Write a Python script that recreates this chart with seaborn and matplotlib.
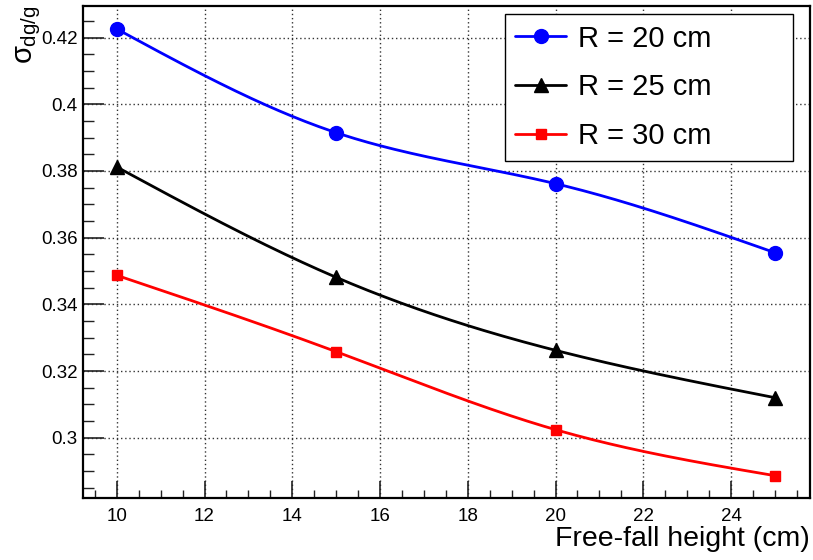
import numpy as np
import pandas as pd
import matplotlib
matplotlib.use("Agg")
import matplotlib.pyplot as plt
from matplotlib.lines import Line2D
from matplotlib.ticker import MultipleLocator, FuncFormatter
import seaborn as sns

# Free-fall heights (cm) and sigma_{dg/g} for three radii
heights = [10, 15, 20, 25]
sigma_r20 = [0.4226, 0.3915, 0.3762, 0.3555]
sigma_r25 = [0.3812, 0.3481, 0.3262, 0.3120]
sigma_r30 = [0.3487, 0.3258, 0.3024, 0.2886]
series_labels = ["R = 20 cm", "R = 25 cm", "R = 30 cm"]
series_colors = ["#0000ff", "#000000", "#ff0000"]
series_markers = ["o", "^", "s"]
series_msizes = [10, 9.5, 7.5]


def smooth_curve(x, y, n=200):
    """Natural cubic spline through the given points (for a smooth line)."""
    x = np.asarray(x, float)
    y = np.asarray(y, float)
    k = len(x)
    h = np.diff(x)
    A = np.zeros((k, k))
    b = np.zeros(k)
    A[0, 0] = A[-1, -1] = 1.0
    for i in range(1, k - 1):
        A[i, i - 1] = h[i - 1]
        A[i, i] = 2 * (h[i - 1] + h[i])
        A[i, i + 1] = h[i]
        b[i] = 6 * ((y[i + 1] - y[i]) / h[i] - (y[i] - y[i - 1]) / h[i - 1])
    M = np.linalg.solve(A, b)
    xs = np.linspace(x[0], x[-1], n)
    idx = np.clip(np.searchsorted(x, xs) - 1, 0, k - 2)
    x0, x1 = x[idx], x[idx + 1]
    hh = x1 - x0
    t0 = x1 - xs
    t1 = xs - x0
    ys = (M[idx] * t0 ** 3 + M[idx + 1] * t1 ** 3) / (6 * hh) \
        + (y[idx] / hh - M[idx] * hh / 6) * t0 \
        + (y[idx + 1] / hh - M[idx + 1] * hh / 6) * t1
    return xs, ys


sns.set_theme(style="white")
plt.rcParams["font.family"] = ["Liberation Sans", "DejaVu Sans"]
plt.rcParams["mathtext.fontset"] = "custom"
plt.rcParams["mathtext.rm"] = "Liberation Sans"
plt.rcParams["mathtext.it"] = "Liberation Sans"
plt.rcParams["xtick.labelsize"] = 13.5
plt.rcParams["ytick.labelsize"] = 13.5

fig = plt.figure(figsize=(8.13, 5.6), dpi=100)
ax = fig.add_axes([83 / 813, 1 - 498 / 560, (810 - 83) / 813, (498 - 6) / 560])

all_series = [sigma_r20, sigma_r25, sigma_r30]
handles = []
for vals, lab, col, mk, ms in zip(all_series, series_labels, series_colors,
                                  series_markers, series_msizes):
    xs, ys = smooth_curve(heights, vals)
    curve = pd.DataFrame({"h": xs, "s": ys})
    sns.lineplot(data=curve, x="h", y="s", ax=ax, color=col, lw=2,
                 sort=False, zorder=3)
    pts = pd.DataFrame({"h": heights, "s": vals})
    ax.plot(pts["h"], pts["s"], ls="none", marker=mk, ms=ms, color=col,
            mec=col, zorder=4)
    handles.append(Line2D([], [], color=col, lw=2, marker=mk, ms=ms, mec=col))

ax.set_xlim(9.23, 25.8)
ax.set_ylim(0.2819, 0.4295)

ax.xaxis.set_major_locator(MultipleLocator(2))
ax.xaxis.set_minor_locator(MultipleLocator(0.5))
ax.yaxis.set_major_locator(MultipleLocator(0.02))
ax.yaxis.set_minor_locator(MultipleLocator(0.005))
ax.yaxis.set_major_formatter(FuncFormatter(lambda v, p: f"{v:g}"))

ax.grid(True, which="major", ls=(0, (1, 2)), color="#333333", lw=1.0)
ax.tick_params(axis="both", which="both", direction="in", color="#222222",
               labelsize=13.5, labelcolor="black", bottom=True, left=True,
               top=False, right=False)
ax.tick_params(axis="x", which="major", length=12, width=1.2, pad=7)
ax.tick_params(axis="x", which="minor", length=5.5, width=1.0)
ax.tick_params(axis="y", which="major", length=15, width=1.2, pad=4)
ax.tick_params(axis="y", which="minor", length=8, width=1.0)

for sp in ax.spines.values():
    sp.set_color("black")
    sp.set_linewidth(1.6)

ax.set_xlabel("Free-fall height (cm)", fontsize=20.5, loc="right",
              labelpad=1, color="black")
ax.set_ylabel(r"$\sigma_{\rm dg/g}$", fontsize=21, loc="top", color="black")
ax.yaxis.set_label_coords(-0.055, 1.0)

leg = ax.legend(handles, series_labels, loc="upper left",
                bbox_to_anchor=(0.580, 0.681, 0.397, 0.303), mode="expand",
                fontsize=21, frameon=True, fancybox=False, shadow=False,
                framealpha=1.0, edgecolor="black", borderpad=0.37,
                labelspacing=0.71, handlelength=1.75, handletextpad=0.4,
                borderaxespad=0)
leg.get_frame().set_linewidth(1.0)
for t in leg.get_texts():
    t.set_color("black")
leg.set_zorder(10)

fig.savefig("out.png", dpi=100, facecolor="white")
